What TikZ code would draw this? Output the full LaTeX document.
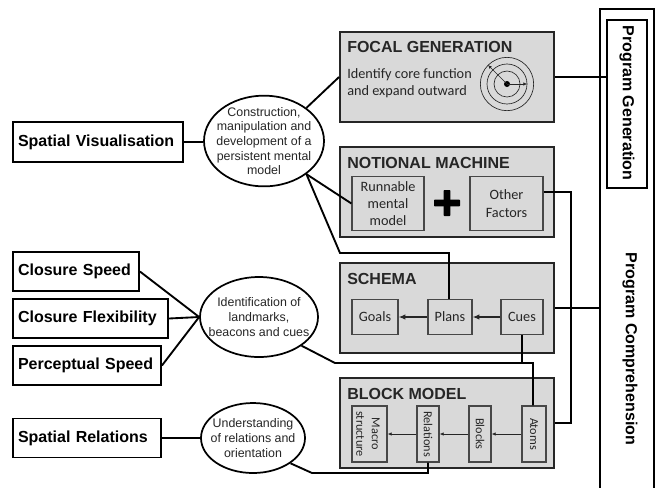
\documentclass[tikz,border=0pt]{standalone}
\usepackage{fontspec}
\usepackage{xcolor}
\setmainfont{Liberation Sans}
\newfontfamily\calfont{Carlito}
\usetikzlibrary{shapes.geometric,arrows.meta}
\definecolor{panelgrey}{HTML}{D9D9D9}
\definecolor{inkgrey}{HTML}{262626}
\tikzset{
  factor/.style={draw=black,line width=1.4pt,fill=white,font=\bfseries\fontsize{12}{14}\selectfont,inner ysep=0pt,inner xsep=3.75pt,align=left},
  process/.style={ellipse,draw=black,line width=1.3pt,fill=white,inner sep=0pt},
  processtext/.style={inner sep=0pt,align=center,text=inkgrey,font=\fontsize{9.3}{11}\selectfont},
  panel/.style={draw=inkgrey,line width=1.4pt,fill=panelgrey,inner sep=0pt},
  part/.style={draw=inkgrey!85,line width=0.9pt,align=center,inner sep=0pt,text=inkgrey,font=\calfont\fontsize{10.7}{13}\selectfont},
  parttext/.style={rotate=-90,align=center,inner sep=0pt,text=inkgrey,font=\calfont\fontsize{9.2}{11.5}\selectfont},
  paneltitle/.style={anchor=west,inner sep=0pt,font=\bfseries\fontsize{12}{14}\selectfont,text=inkgrey},
  link/.style={line width=1.4pt,draw=black},
  flow/.style={line width=0.9pt,-{Latex[length=5pt,width=4pt]},draw=inkgrey},
  thinflow/.style={line width=0.5pt,-{Latex[length=3pt,width=2.5pt]},draw=inkgrey},
  sidelabel/.style={rotate=-90,inner sep=0pt,font=\bfseries\fontsize{12}{14}\selectfont}
}
\begin{document}
\begin{tikzpicture}[x=0.75pt,y=-0.75pt]
\useasboundingbox (0,0) rectangle (655,487);

% outer frames on the right
\node[draw=black,line width=1.3pt,inner sep=0pt,minimum width=40.5pt,minimum height=375pt] (comprehension) at (627,259) {};
\node[draw=black,line width=1.4pt,fill=white,inner sep=0pt,minimum width=30pt,minimum height=126pt] (generation) at (627,104) {};
\node[sidelabel] (generationtext) at (627,103) {Program Generation};
\node[sidelabel] (comprehensiontext) at (630,349) {Program Comprehension};

% grey panels
\node[panel,minimum width=160.5pt,minimum height=67.5pt] (focal) at (447,77) {};
\node[panel,minimum width=160.5pt,minimum height=67.5pt] (notional) at (447,192) {};
\node[panel,minimum width=160.5pt,minimum height=67.5pt] (schema) at (447,308) {};
\node[panel,minimum width=160.5pt,minimum height=67.5pt] (block) at (447,423) {};

\node[paneltitle] (focaltitle) at (347,47) {FOCAL GENERATION};
\node[paneltitle] (notionaltitle) at (347,163) {NOTIONAL MACHINE};
\node[paneltitle] (schematitle) at (347,279) {SCHEMA};
\node[paneltitle] (blocktitle) at (347,394) {BLOCK MODEL};

\node[anchor=west,inner sep=0pt,align=left,text=inkgrey,font=\calfont\fontsize{10.7}{13}\selectfont] (focaltext) at (347,83) {Identify core function\\and expand outward};

% target
\node[circle,draw=inkgrey,line width=0.5pt,minimum size=40pt,inner sep=0pt] (ringc) at (507,84) {};
\node[circle,draw=inkgrey,line width=0.5pt,minimum size=30pt,inner sep=0pt] (ringb) at (507,84) {};
\node[circle,draw=inkgrey,line width=0.5pt,minimum size=19.5pt,inner sep=0pt] (ringa) at (507,84) {};
\node[circle,fill=black,minimum size=4.5pt,inner sep=0pt] (bullseye) at (507,84) {};
\draw[thinflow] (bullseye.center) -- (ringc.135);
\draw[thinflow] (bullseye.center) -- (ringb.east);

% notional machine
\node[part,minimum width=54pt,minimum height=40pt] (runnable) at (388,203.5) {Runnable\\mental\\model};
\node[part,minimum width=54.75pt,minimum height=40pt] (other) at (506.5,203.5) {Other\\Factors};
\node[inner sep=0pt,minimum width=19.5pt,minimum height=5pt,fill=black,rounded corners=0.5pt] (plusbar) at (447,203) {};
\node[inner sep=0pt,minimum width=5pt,minimum height=19.5pt,fill=black,rounded corners=0.5pt] (plusstem) at (447,203) {};

% schema
\node[part,minimum width=34.5pt,minimum height=26.25pt] (goals) at (375,317) {Goals};
\node[part,minimum width=33pt,minimum height=26.25pt] (plans) at (450,317) {Plans};
\node[part,minimum width=31.5pt,minimum height=26.25pt] (cues) at (522,317) {Cues};
\draw[flow] (plans) -- (goals);
\draw[flow] (cues) -- (plans);

% block model
\node[part,minimum width=26.25pt,minimum height=42pt] (macro) at (369.5,434) {};
\node[parttext] (macrotext) at (368,434) {Macro\\structure};
\node[part,minimum width=16.5pt,minimum height=42pt] (relations) at (428,434) {};
\node[parttext] (relationstext) at (428,434) {Relations};
\node[part,minimum width=16.5pt,minimum height=42pt] (blocks) at (480,434) {};
\node[parttext] (blockstext) at (480,434) {Blocks};
\node[part,minimum width=18pt,minimum height=42pt] (atoms) at (534,434) {};
\node[parttext] (atomstext) at (534,434) {Atoms};
\draw[thinflow] (atoms) -- (blocks);
\draw[thinflow] (blocks) -- (relations);
\draw[thinflow] (relations) -- (macro);

% factors
\node[factor,text width=120pt,minimum height=30pt] (spatialvis) at (98,142) {Spatial Visualisation};
\node[factor,text width=87pt,minimum height=29.25pt] (closurespeed) at (76,271.5) {Closure Speed};
\node[factor,text width=108.75pt,minimum height=29.25pt] (closureflex) at (90.5,318.5) {Closure Flexibility};
\node[factor,text width=103.5pt,minimum height=29.25pt] (perceptual) at (87,365.5) {Perceptual Speed};
\node[factor,text width=103.5pt,minimum height=29.25pt] (spatialrel) at (87,438) {Spatial Relations};

% ellipses
\node[process,minimum width=90pt,minimum height=68pt] (construct) at (264,141) {};
\node[processtext] (constructtext) at (264,141) {Construction,\\manipulation and\\development of a\\persistent mental\\model};
\node[process,minimum width=88.5pt,minimum height=60pt] (identify) at (259,317) {};
\node[processtext] (identifytext) at (259,317) {Identification of\\landmarks,\\beacons and cues};
\node[process,minimum width=78pt,minimum height=52.5pt] (understand) at (253,438) {};
\node[processtext] (understandtext) at (253,438) {Understanding\\of relations and\\orientation};

% connectors
\coordinate (planbend) at (340,253);
\coordinate (planup) at (449,253);
\coordinate (landbend) at (335,363);
\coordinate (landrun) at (533,363);
\coordinate (relbend) at (312,473);
\coordinate (relrun) at (428,473);
\coordinate (machinerun) at (571,192);
\coordinate (machinedown) at (571,423);

\draw[link] (spatialvis.east) -- (spatialvis.east -| construct.west);
\draw[link] (construct.38) -- (focal.west);
\draw[link] (construct.-38) -- (runnable.west);
\draw[link] (construct.-38) -- (planbend) -- (planup) -- (plans.north -| planup);
\draw[link] (focal.east) -- (focal.east -| generation.west);
\draw[link] (other.east |- machinerun) -- (machinerun) -- (machinedown) -- (block.east |- machinedown);
\draw[link] (schema.east) -- (schema.east -| comprehension.west);
\draw[link] (closurespeed.east) -- (identify.west);
\draw[link] (closureflex.east) -- (identify.west);
\draw[link] (perceptual.east) -- (identify.west);
\draw[link] (identify.-34) -- (landbend) -- (landrun) -- (atoms.north -| landrun);
\draw[link] (cues.south) -- (cues.south |- landrun);
\draw[link] (spatialrel.east) -- (spatialrel.east -| understand.west);
\draw[link] (understand.-34) -- (relbend) -- (relrun) -- (relations.south);

\end{tikzpicture}
\end{document}
